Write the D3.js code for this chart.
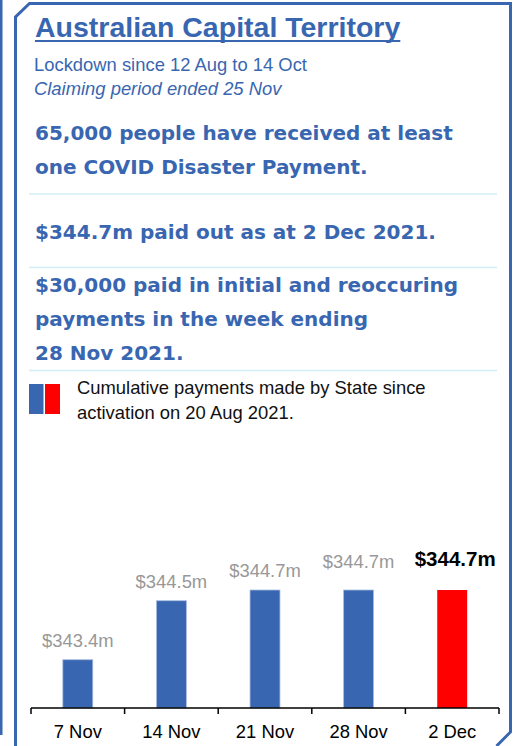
<!DOCTYPE html>
<html>
<head>
<meta charset="utf-8">
<script src="https://cdn.jsdelivr.net/npm/d3@7"></script>
<style>
  body { margin: 0; background: #fff; }
  svg { display: block; }
</style>
</head>
<body>
<svg id="chart" width="520" height="746"></svg>
<script>
var dates = ["7 Nov", "14 Nov", "21 Nov", "28 Nov", "2 Dec"];
var paid = [343.4, 344.5, 344.7, 344.7, 344.7];
var headline = ["65,000 people have received at least", "one COVID Disaster Payment."];
var paidOut = ["$344.7m paid out as at 2 Dec 2021."];
var weekly = ["$30,000 paid in initial and reoccuring", "payments in the week ending", "28 Nov 2021."];
var legendText = ["Cumulative payments made by State since", "activation on 20 Aug 2021."];

var BLUE = "#3966b0",
	RED = "#ff0000",
	RULE = "#d2eef6",
	SANS = "'Liberation Sans', Arial, sans-serif",
	HEAVY = "'DejaVu Sans', Verdana, sans-serif";

var svg = d3.select("#chart");

// frame
svg.append("rect")
	.attr("x", 0).attr("y", 0)
	.attr("width", 2.5).attr("height", 735)
	.attr("fill", BLUE);

svg.append("path")
	.attr("d", "M15.5,746V17L29.5,3.5H510.5V732L496.5,746")
	.attr("fill", "none")
	.attr("stroke", BLUE)
	.attr("stroke-width", 3);

// title
var title = svg.append("text")
	.attr("x", 35).attr("y", 37)
	.attr("fill", BLUE)
	.attr("font-family", SANS)
	.attr("font-weight", "bold")
	.attr("font-size", 28.5)
	.text("Australian Capital Territory");

svg.append("line")
	.attr("x1", 35).attr("x2", 35 + title.node().getComputedTextLength())
	.attr("y1", 41).attr("y2", 41)
	.attr("stroke", BLUE)
	.attr("stroke-width", 2);

svg.append("text")
	.attr("x", 34).attr("y", 71)
	.attr("fill", BLUE)
	.attr("font-family", SANS)
	.attr("font-size", 18.4)
	.text("Lockdown since 12 Aug to 14 Oct");

svg.append("text")
	.attr("x", 34).attr("y", 95)
	.attr("fill", BLUE)
	.attr("font-family", SANS)
	.attr("font-style", "italic")
	.attr("font-size", 18.4)
	.text("Claiming period ended 25 Nov");

function block(lines, y0, lh) {
	svg.append("g").selectAll("text")
		.data(lines)
		.enter()
		.append("text")
		.attr("x", 35)
		.attr("y", function(d, i) { return y0 + i * lh; })
		.attr("fill", BLUE)
		.attr("font-family", HEAVY)
		.attr("font-weight", "bold")
		.attr("font-size", 20)
		.text(function(d) { return d; });
}

block(headline, 139.5, 34);
block(paidOut, 238.5, 0);
block(weekly, 291.5, 34.3);

svg.append("g").selectAll("line")
	.data([194, 267.5, 370.5])
	.enter()
	.append("line")
	.attr("x1", 29).attr("x2", 497)
	.attr("y1", function(d) { return d; })
	.attr("y2", function(d) { return d; })
	.attr("stroke", RULE)
	.attr("stroke-width", 1.5);

// legend
svg.append("rect")
	.attr("x", 29).attr("y", 384).attr("width", 14.5).attr("height", 30)
	.attr("fill", BLUE);
svg.append("rect")
	.attr("x", 45).attr("y", 384).attr("width", 15).attr("height", 30)
	.attr("fill", RED);

svg.append("g").selectAll("text")
	.data(legendText)
	.enter()
	.append("text")
	.attr("x", 77)
	.attr("y", function(d, i) { return 393.5 + i * 25; })
	.attr("fill", "#111")
	.attr("font-family", SANS)
	.attr("font-size", 18.4)
	.text(function(d) { return d; });

// bars
var x = d3.scaleBand()
	.domain(dates)
	.range([31, 499])
	.paddingInner(0.68)
	.paddingOuter(0.34);

var y = d3.scaleLinear()
	.domain([342.5, 344.7])
	.range([708, 590]);

var last = dates.length - 1;

svg.append("g").selectAll("rect")
	.data(paid)
	.enter()
	.append("rect")
	.attr("x", function(d, i) { return x(dates[i]); })
	.attr("y", function(d) { return y(d); })
	.attr("width", x.bandwidth())
	.attr("height", function(d) { return 708 - y(d); })
	.attr("fill", function(d, i) { return i == last ? RED : BLUE; })
	.attr("stroke", function(d, i) { return i == last ? "none" : "#a9bde2"; })
	.attr("stroke-width", 0.8);

svg.append("g").selectAll("text")
	.data(paid)
	.enter()
	.append("text")
	.attr("x", function(d, i) { return x(dates[i]) + x.bandwidth() / 2 + (i == last ? 3 : 0); })
	.attr("y", function(d, i) { return y(d) - 13 - (i == 3 ? 9 : i == last ? 11 : 0); })
	.attr("text-anchor", "middle")
	.attr("fill", function(d, i) { return i == last ? "#000" : "#989898"; })
	.attr("font-family", SANS)
	.attr("font-weight", function(d, i) { return i == last ? "bold" : "normal"; })
	.attr("font-size", function(d, i) { return i == last ? 20.5 : 18.4; })
	.text(function(d) { return "$" + d.toFixed(1) + "m"; });

// axis
var axis = svg.append("g")
	.attr("transform", "translate(0,708)")
	.call(d3.axisBottom(x).tickSize(0).tickPadding(17));

axis.select(".domain")
	.attr("d", "M31,0H499")
	.attr("stroke", "#000")
	.attr("stroke-width", 1.5);

axis.selectAll(".tick text")
	.attr("fill", "#000")
	.attr("font-family", SANS)
	.attr("font-size", 18.4)
	.attr("dy", "0.71em");

axis.selectAll(".edge")
	.data(d3.range(dates.length + 1))
	.enter()
	.append("line")
	.attr("class", "edge")
	.attr("x1", function(i) { return 31 + i * x.step(); })
	.attr("x2", function(i) { return 31 + i * x.step(); })
	.attr("y1", 0).attr("y2", 6)
	.attr("stroke", "#000")
	.attr("stroke-width", 1.5);
</script>
</body>
</html>
